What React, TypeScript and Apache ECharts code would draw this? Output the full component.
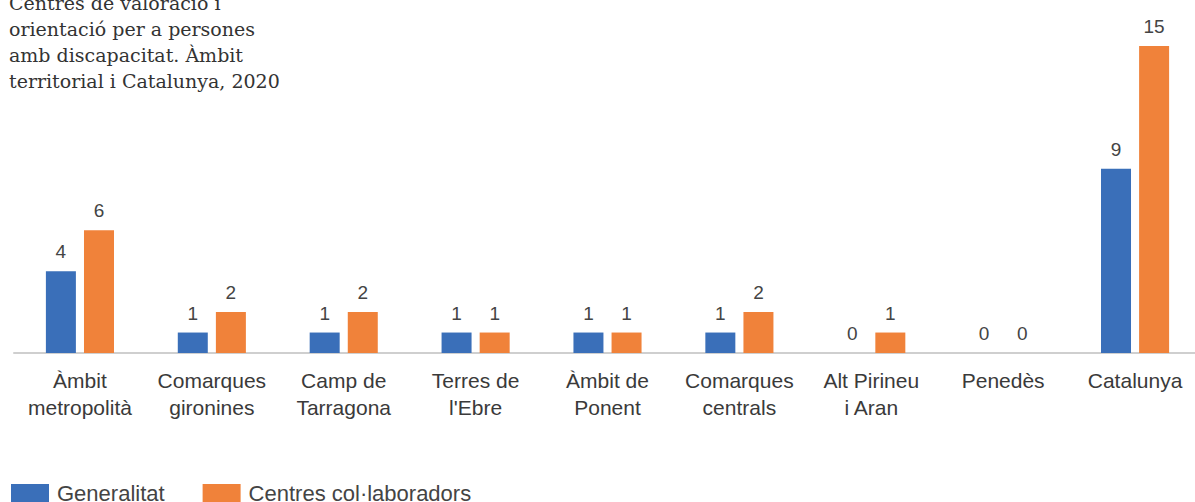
import React, { useEffect, useRef } from "react";
import * as echarts from "echarts";

const categories = [
  "Àmbit\nmetropolità",
  "Comarques\ngironines",
  "Camp de\nTarragona",
  "Terres de\nl'Ebre",
  "Àmbit de\nPonent",
  "Comarques\ncentrals",
  "Alt Pirineu\ni Aran",
  "Penedès",
  "Catalunya",
];
const generalitat = [4, 1, 1, 1, 1, 1, 0, 0, 9];
const collaboradors = [6, 2, 2, 1, 1, 2, 1, 0, 15];
const seriesNames = ["Generalitat", "Centres col·laboradors"];
const titleText =
  "Centres de valoració i\norientació per a persones\namb discapacitat. Àmbit\nterritorial i Catalunya, 2020";

export default function App() {
  const ref = useRef<HTMLDivElement>(null);
  useEffect(() => {
    const chart = echarts.init(ref.current!, null, { renderer: "svg" });
    const labelStyle = {
      show: true,
      position: "top" as const,
      distance: 10,
      color: "#444",
      fontSize: 19,
      fontFamily: "Liberation Sans, Arial, sans-serif",
    };
    chart.setOption({
      animation: false,
      backgroundColor: "#fff",
      title: {
        text: titleText,
        left: 9,
        top: -10,
        padding: 0,
        textStyle: {
          fontFamily: "DejaVu Serif, serif",
          fontWeight: "normal",
          fontSize: 19,
          lineHeight: 26,
          color: "#333",
        },
      },
      legend: {
        left: 6,
        top: 477,
        itemWidth: 38,
        itemHeight: 18,
        itemGap: 38,
        icon: "rect",
        textStyle: {
          fontSize: 22,
          color: "#444",
          fontFamily: "Liberation Sans, Arial, sans-serif",
          padding: [0, 0, 0, 3],
        },
        data: seriesNames,
      },
      grid: { left: 14, width: 1187, top: 46, height: 307, containLabel: false },
      xAxis: {
        type: "category",
        data: categories,
        axisLine: { lineStyle: { color: "#cfcfcf", width: 2 } },
        axisTick: { show: false },
        axisLabel: {
          interval: 0,
          margin: 14,
          fontSize: 21,
          lineHeight: 27,
          color: "#3a3a3a",
          fontFamily: "Liberation Sans, Arial, sans-serif",
        },
      },
      yAxis: {
        type: "value",
        min: 0,
        max: 15,
        show: false,
        splitLine: { show: false },
      },
      series: [
        {
          name: seriesNames[0],
          type: "bar",
          data: generalitat,
          barWidth: 30,
          barGap: "27%",
          itemStyle: { color: "#3a6fb9" },
          label: labelStyle,
        },
        {
          name: seriesNames[1],
          type: "bar",
          data: collaboradors,
          barWidth: 30,
          barGap: "27%",
          itemStyle: { color: "#f0823a" },
          label: labelStyle,
        },
      ],
    });
    return () => chart.dispose();
  }, []);
  return (
    <div
      style={{
        width: 1195,
        height: 502,
        position: "absolute",
        left: 0,
        top: 0,
        overflow: "hidden",
      }}
    >
      <div ref={ref} style={{ width: 1215, height: 502 }} />
    </div>
  );
}
